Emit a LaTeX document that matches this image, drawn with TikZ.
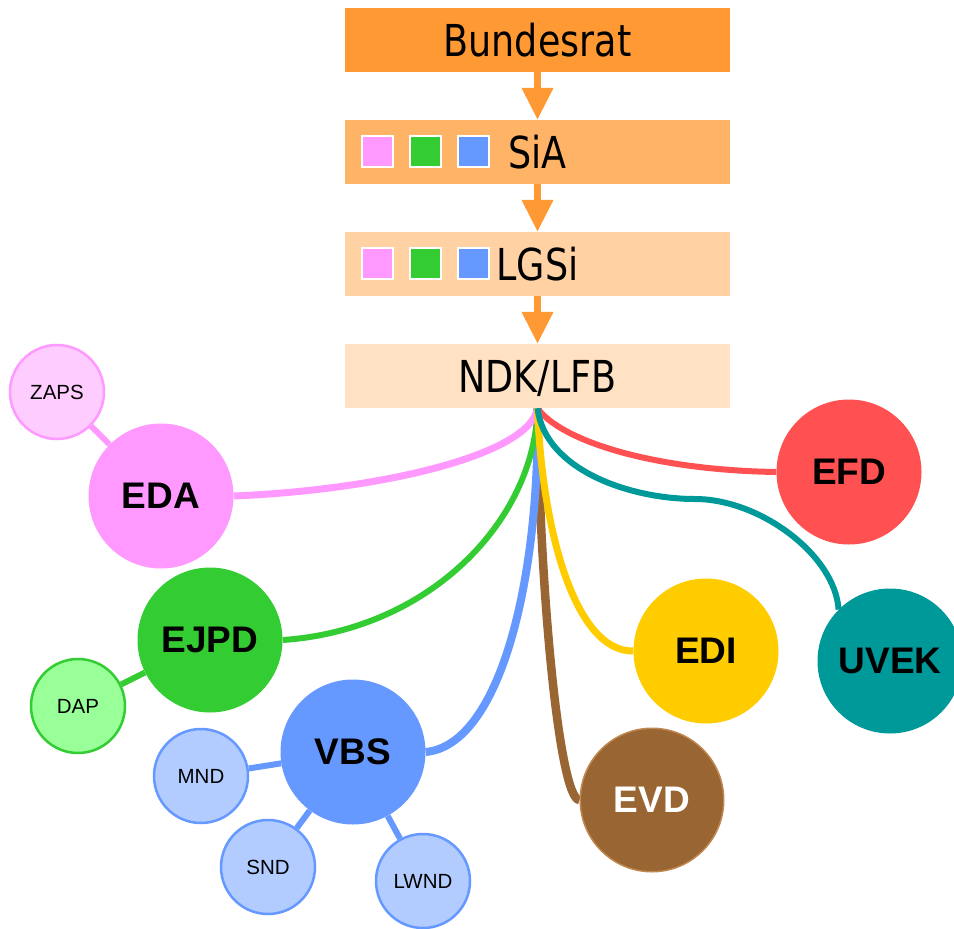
\documentclass[tikz,border=0pt]{standalone}
\usepackage{fontspec}
\setmainfont{Liberation Sans}
\newfontfamily\boxfont[FakeStretch=0.83]{DejaVu Sans}
\usetikzlibrary{arrows.meta,backgrounds}
\definecolor{cBR}{HTML}{FF9933}
\definecolor{cSiA}{HTML}{FFB366}
\definecolor{cLGSi}{HTML}{FFD1A3}
\definecolor{cNDK}{HTML}{FFE1C4}
\definecolor{cPink}{HTML}{FF99FF}
\definecolor{cPinkL}{HTML}{FFCCFF}
\definecolor{cGreen}{HTML}{33CC33}
\definecolor{cGreenL}{HTML}{99FF99}
\definecolor{cBlue}{HTML}{6699FF}
\definecolor{cBlueL}{HTML}{B3CCFF}
\definecolor{cRed}{HTML}{FF5151}
\definecolor{cTeal}{HTML}{009999}
\definecolor{cYellow}{HTML}{FFCC00}
\definecolor{cBrown}{HTML}{996633}
\definecolor{cBrownL}{HTML}{C08850}
\begin{document}
\begin{tikzpicture}[x=1pt,y=-1pt,
  orgbox/.style={rectangle, minimum width=385pt, minimum height=64pt, inner sep=0pt,
    text height=32pt, text depth=0pt, font=\boxfont\fontsize{44}{46}\selectfont},
  sq/.style={rectangle, minimum size=31pt, inner sep=0pt, draw=white, line width=2pt},
  arrowline/.style={draw=cBR, line width=7pt, -{Triangle[length=32pt,width=30pt]}},
  big/.style={circle, minimum size=145pt, inner sep=0pt, font=\bfseries\fontsize{37}{40}\selectfont},
  small/.style={circle, minimum size=94pt, inner sep=0pt, line width=2.5pt, font=\fontsize{20.5}{22}\selectfont},
  link/.style={line width=6pt},
  fan/.style={line width=6.5pt}
]
\useasboundingbox (0,0) rectangle (954,929);

% hierarchy boxes
\node[orgbox, fill=cBR]   (br)  at (537.5,40)  {Bundesrat};
\node[orgbox, fill=cSiA]  (sia) at (537.5,152) {SiA};
\node[orgbox, fill=cLGSi] (lgsi) at (537.5,264) {LGSi};
\node[orgbox, fill=cNDK]  (ndk) at (537.5,376) {NDK/LFB};

\node[sq, fill=cPink]  (s1) at (377,151.5) {};
\node[sq, fill=cGreen] (s2) at (425,151.5) {};
\node[sq, fill=cBlue]  (s3) at (473,151.5) {};
\node[sq, fill=cPink]  (l1) at (377,263.5) {};
\node[sq, fill=cGreen] (l2) at (425,263.5) {};
\node[sq, fill=cBlue]  (l3) at (473,263.5) {};

\draw[arrowline] (br.south) -- (sia.north);
\draw[arrowline] (sia.south) -- (lgsi.north);
\draw[arrowline] (lgsi.south) -- (ndk.north);

% departments
\node[big, fill=cPink]  (eda)  at (161,496) {EDA};
\node[big, fill=cGreen] (ejpd) at (210,640) {EJPD};
\node[big, fill=cBlue]  (vbs)  at (353,752) {VBS};
\node[big, fill=cBrown, draw=cBrownL, line width=1.5pt, minimum size=143.5pt, text=white] (evd) at (652,800) {EVD};
\node[big, fill=cYellow] (edi) at (706,651) {EDI};
\node[big, fill=cTeal]  (uvek) at (890,661) {UVEK};
\node[big, fill=cRed]   (efd)  at (849,472) {EFD};

% sub-units
\node[small, fill=cPinkL, draw=cPink]   (zaps) at (57,392)  {ZAPS};
\node[small, fill=cGreenL, draw=cGreen] (dap)  at (78,706)  {DAP};
\node[small, fill=cBlueL, draw=cBlue]   (mnd)  at (201,776) {MND};
\node[small, fill=cBlueL, draw=cBlue]   (snd)  at (268,867) {SND};
\node[small, fill=cBlueL, draw=cBlue]   (lwnd) at (423,881) {LWND};

\begin{scope}[on background layer]
  \draw[link, cPink]  (zaps) -- (eda);
  \draw[link, cGreen] (dap) -- (ejpd);
  \draw[link, cBlue]  (mnd) -- (vbs);
  \draw[link, cBlue]  (snd) -- (vbs);
  \draw[link, cBlue]  (lwnd) -- (vbs);

  \draw[fan, cBrown, line width=8.5pt] (ndk.south) .. controls (540,600) and (560,800) .. (evd.west);
  \draw[fan, cBlue, line width=8pt] (ndk.south) .. controls (540,580) and (500,745) .. (vbs.east);
  \draw[fan, cGreen, line width=6pt] (ndk.south) .. controls (535,520) and (430,630) .. (ejpd.east);
  \draw[fan, cPink, line width=7pt] (ndk.south) .. controls (530,455) and (380,490) .. (eda.east);
  \draw[fan, cYellow, line width=7pt] (ndk.south) .. controls (542,530) and (575,652) .. (edi.west);
  \draw[fan, cRed, line width=6pt] (ndk.south) .. controls (560,440) and (650,470) .. (efd.west);
  \coordinate (tmid) at (695,499);
  \draw[fan, cTeal, line width=6pt] (ndk.south) .. controls (545,470) and (630,499) .. (tmid)
     .. controls (760,499) and (835,555) .. (uvek.north west);
\end{scope}
\end{tikzpicture}
\end{document}
